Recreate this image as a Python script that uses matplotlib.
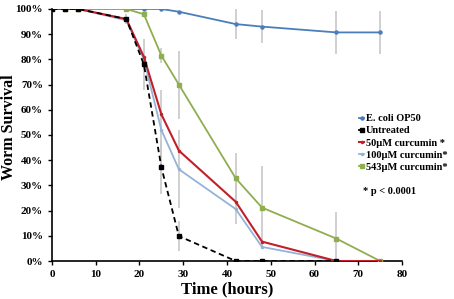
import numpy as np
import matplotlib.pyplot as plt
from matplotlib.ticker import PercentFormatter

plt.rcParams['font.family'] = ['Liberation Serif', 'DejaVu Serif']
plt.rcParams['font.weight'] = 'bold'

hours = [0, 3, 6, 17, 21, 25, 29, 42, 48, 65, 75]

op50 = [100, 100, 100, 100, 100, 100, 98.9, 94, 93, 90.7, 90.7]
op50_err = [0, 0, 0, 0, 0, 0, 0, 6, 6.5, 8.5, 8.5]

untreated = [100, 100, 100, 96, 78, 37.2, 9.9, 0, 0, 0, None]
untreated_err = [0, 0, 0, 2, 10, 10.5, 6, 0, 0, 0, 0]

c50 = [100, 100, 100, 96, 81, 58.2, 43.8, 23.5, 7.7, 0, 0]
c50_err = [0, 0, 0, 0, 0, 0, 0, 9, 0, 0, 0]

c100 = [100, 100, 100, 95.5, 80, 52, 36.4, 20.6, 5.6, 0, 0]
c100_err = [0, 0, 0, 0, 0, 16, 15.5, 0, 0, 0, 0]

c543 = [100, 100, 100, 100, 97.9, 81.5, 70, 32.8, 21.2, 8.9, 0]
c543_err = [0, 0, 0, 0, 0, 3, 13.5, 10, 16.5, 10.7, 0]

labels = ['E. coli OP50', 'Untreated', '50µM curcumin *', '100µM curcumin*', '543µM curcumin*']

fig = plt.figure(figsize=(4.54, 2.99), dpi=100)
ax = fig.add_axes([0.1145, 0.127, 0.771, 0.843])

def draw(y, err, color, ls='-', marker='o', ms=2, lw=1.4, z=2, label=None):
    x = np.array([h for h, v in zip(hours, y) if v is not None], dtype=float)
    yy = np.array([v for v in y if v is not None], dtype=float)
    ee = np.array([e for e, v in zip(err, y) if v is not None], dtype=float)
    m = ee > 0
    ax.errorbar(x[m], yy[m], yerr=ee[m], fmt='none', ecolor='#c8c8c8', elinewidth=1.2, capsize=0, zorder=1)
    ax.plot(x, yy, color=color, ls=ls, lw=lw, marker=marker, ms=ms, zorder=z, label=label)

draw(op50, op50_err, '#4a7ebb', marker='o', ms=2.2, lw=1.3, z=3, label=labels[0])
draw(untreated, untreated_err, 'black', ls=(0, (3, 2)), marker='s', ms=3, lw=1.3, z=6, label=labels[1])
draw(c50, c50_err, '#c0202a', marker='o', ms=1.5, lw=1.5, z=5, label=labels[2])
draw(c100, c100_err, '#95b3d7', marker='o', ms=1.5, lw=1.3, z=4, label=labels[3])
draw(c543, c543_err, '#8fae4f', marker='s', ms=2.2, lw=1.3, z=3, label=labels[4])

ax.set_xlim(0, 80)
ax.set_ylim(0, 100)
ax.set_xticks(range(0, 81, 10))
ax.set_yticks(range(0, 101, 10))
ax.yaxis.set_major_formatter(PercentFormatter(decimals=0))
ax.tick_params(labelsize=8, length=3, width=1)
ax.spines['top'].set_visible(False)
ax.spines['right'].set_visible(False)
ax.spines['left'].set_linewidth(1.2)
ax.spines['bottom'].set_linewidth(1.2)
ax.set_xlabel('Time (hours)', fontsize=12, fontweight='bold', labelpad=2)
ax.set_ylabel('Worm Survival', fontsize=11.5, fontweight='bold')
ax.yaxis.set_label_coords(-0.1, 0.53)

leg = ax.legend(loc='upper left', bbox_to_anchor=(0.865, 0.6), frameon=False, fontsize=7.5,
                handlelength=0.5, handletextpad=0.2, labelspacing=0.28, borderaxespad=0)
for h in leg.legend_handles:
    h.set_linestyle('-')
fig.text(0.8, 0.352, '* p < 0.0001', fontsize=7.5, fontweight='bold')

fig.savefig('out.png', dpi=100)
